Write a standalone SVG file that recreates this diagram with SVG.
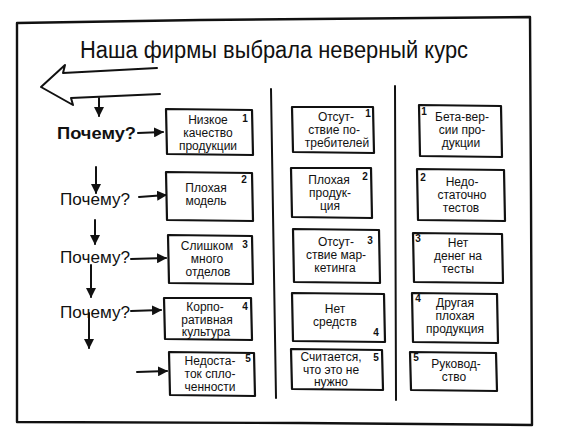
<svg xmlns="http://www.w3.org/2000/svg" width="561" height="440" viewBox="0 0 561 440">
<style>
.ln{fill:none;stroke:#111;stroke-width:2;stroke-linecap:round;stroke-linejoin:round}
.bx{fill:#fff;stroke:#111;stroke-width:2.2;stroke-linejoin:round}
.t{font-family:"Liberation Sans","DejaVu Sans",sans-serif;font-size:12px;fill:#111;text-anchor:middle}
.n{font-family:"Liberation Sans","DejaVu Sans",sans-serif;font-size:10px;font-weight:bold;fill:#111;text-anchor:middle}
.q{font-family:"Liberation Sans","DejaVu Sans",sans-serif;font-size:17px;fill:#111}
</style>
<defs>
<marker id="ah" viewBox="0 0 10 10" refX="9" refY="5" markerWidth="5" markerHeight="5" markerUnits="strokeWidth" orient="auto">
<path d="M0,0 L10,5 L0,10 Z" fill="#111"/>
</marker>
</defs>
<rect width="561" height="440" fill="#fff"/>
<g id="frame">
<path class="ln" style="stroke-width:2.4" d="M17,23 L200,20 L530,17 L531,200 L532,425 L300,423 L17,422 L17,200 Z"/>
<line class="ln" x1="271" y1="89" x2="276" y2="398"/>
<line class="ln" x1="395" y1="86" x2="396" y2="400"/>
</g>
<g id="title">
<text x="80" y="58" style="font-family:'Liberation Sans','DejaVu Sans',sans-serif;font-size:23px;fill:#111" textLength="388" lengthAdjust="spacingAndGlyphs">Наша фирмы выбрала неверный курс</text>
</g>
<g id="bigarrow">
<path class="ln" d="M157,68 L63,73 L65,65 L41,87 L73,105 L71,98 L160,94"/>
</g>
<g id="connectors">
<line class="ln" x1="99" y1="98" x2="99" y2="116" marker-end="url(#ah)"/>
<line class="ln" x1="96" y1="167" x2="96" y2="193" marker-end="url(#ah)"/>
<line class="ln" x1="95" y1="220" x2="95" y2="244" marker-end="url(#ah)"/>
<line class="ln" x1="91" y1="265" x2="91" y2="297" marker-end="url(#ah)"/>
<line class="ln" x1="89" y1="313" x2="89" y2="348" marker-end="url(#ah)"/>
<line class="ln" x1="138" y1="133" x2="163" y2="132" marker-end="url(#ah)"/>
<line class="ln" x1="139" y1="197" x2="166" y2="195" marker-end="url(#ah)"/>
<line class="ln" x1="131" y1="259" x2="166" y2="258" marker-end="url(#ah)"/>
<line class="ln" x1="131" y1="311" x2="161" y2="310" marker-end="url(#ah)"/>
<line class="ln" x1="137" y1="372" x2="167" y2="371" marker-end="url(#ah)"/>
</g>
<g id="why">
<text class="q" x="57" y="139" style="font-weight:bold" textLength="79" lengthAdjust="spacingAndGlyphs">Почему?</text>
<text class="q" x="60" y="205" textLength="70" lengthAdjust="spacingAndGlyphs">Почему?</text>
<text class="q" x="60" y="263" textLength="70" lengthAdjust="spacingAndGlyphs">Почему?</text>
<text class="q" x="60" y="318" textLength="70" lengthAdjust="spacingAndGlyphs">Почему?</text>
</g>
<g id="c1b1"><path class="bx" d="M166,109 L252,110 L253,155 L167,154 Z"/>
<text class="t" x="208" y="124">Низкое</text><text class="t" x="208" y="137">качество</text><text class="t" x="208" y="150">продукции</text><text class="n" x="245" y="122">1</text></g>
<g id="c1b2"><path class="bx" d="M166,172 L252,173 L253,221 L167,220 Z"/>
<text class="t" x="206" y="192">Плохая</text><text class="t" x="206" y="205">модель</text><text class="n" x="244" y="183">2</text></g>
<g id="c1b3"><path class="bx" d="M168,235 L252,236 L253,284 L169,283 Z"/>
<text class="t" x="207" y="250">Слишком</text><text class="t" x="207" y="263">много</text><text class="t" x="208" y="276">отделов</text><text class="n" x="245" y="248">3</text></g>
<g id="c1b4"><path class="bx" d="M164,298 L251,298 L252,340 L165,339 Z"/>
<text class="t" x="205" y="311">Корпо-</text><text class="t" x="207" y="323.5">ративная</text><text class="t" x="206" y="336">культура</text><text class="n" x="245" y="310">4</text></g>
<g id="c1b5"><path class="bx" d="M169,352 L254,353 L255,396 L170,395 Z"/>
<text class="t" x="210" y="365">Недоста-</text><text class="t" x="210" y="378">ток спло-</text><text class="t" x="210" y="391">ченности</text><text class="n" x="248" y="362">5</text></g>
<g id="c2b1"><path class="bx" d="M292,107 L373,107 L374,153 L293,152 Z"/>
<text class="t" x="336" y="121">Отсут-</text><text class="t" x="334" y="134">ствие по-</text><text class="t" x="337" y="147">требителей</text><text class="n" x="368" y="117">1</text></g>
<g id="c2b2"><path class="bx" d="M291,168 L371,168 L372,218 L292,217 Z"/>
<text class="t" x="329" y="184">Плохая</text><text class="t" x="330" y="197">продук-</text><text class="t" x="330" y="210">ция</text><text class="n" x="365" y="180">2</text></g>
<g id="c2b3"><path class="bx" d="M293,229 L379,230 L380,283 L294,282 Z"/>
<text class="t" x="336" y="246">Отсут-</text><text class="t" x="336" y="259">ствие мар-</text><text class="t" x="335" y="272">кетинга</text><text class="n" x="370" y="244">3</text></g>
<g id="c2b4"><path class="bx" d="M292,293 L384,294 L385,342 L293,341 Z"/>
<text class="t" x="335" y="313">Нет</text><text class="t" x="335" y="326">средств</text><text class="n" x="376" y="336">4</text></g>
<g id="c2b5"><path class="bx" d="M291,349 L382,350 L383,390 L292,389 Z"/>
<text class="t" x="331" y="361">Считается,</text><text class="t" x="331" y="373.5">что это не</text><text class="t" x="331" y="386">нужно</text><text class="n" x="376" y="361">5</text></g>
<g id="c3b1"><path class="bx" d="M419,105 L501,106 L502,157 L420,156 Z"/>
<text class="t" x="462" y="121">Бета-вер-</text><text class="t" x="462" y="134">сии про-</text><text class="t" x="461" y="147">дукции</text><text class="n" x="424" y="115">1</text></g>
<g id="c3b2"><path class="bx" d="M417,169 L504,170 L505,221 L418,220 Z"/>
<text class="t" x="462" y="186">Недо-</text><text class="t" x="462" y="199">статочно</text><text class="t" x="461" y="212">тестов</text><text class="n" x="423" y="181">2</text></g>
<g id="c3b3"><path class="bx" d="M413,233 L502,234 L503,283 L414,282 Z"/>
<text class="t" x="458" y="247">Нет</text><text class="t" x="458" y="260">денег на</text><text class="t" x="458" y="273">тесты</text><text class="n" x="418" y="242">3</text></g>
<g id="c3b4"><path class="bx" d="M412,293 L497,294 L498,343 L413,342 Z"/>
<text class="t" x="455" y="307">Другая</text><text class="t" x="455" y="320">плохая</text><text class="t" x="455" y="333">продукция</text><text class="n" x="418" y="302">4</text></g>
<g id="c3b5"><path class="bx" d="M410,352 L496,353 L497,391 L411,390 Z"/>
<text class="t" x="456" y="368">Руковод-</text><text class="t" x="454" y="381">ство</text><text class="n" x="416" y="361">5</text></g>
</svg>
